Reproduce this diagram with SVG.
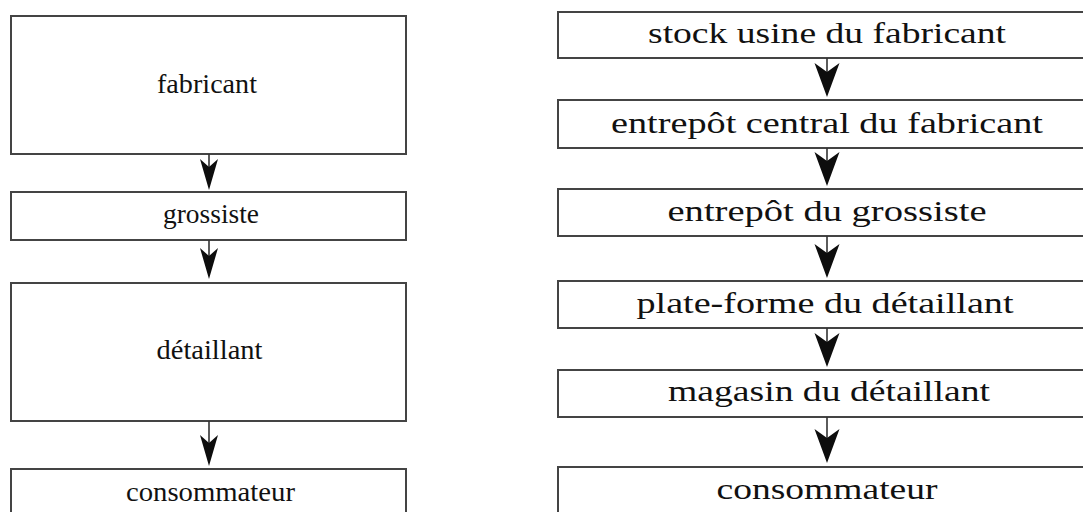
<svg xmlns="http://www.w3.org/2000/svg" width="1083" height="512" viewBox="0 0 1083 512">
  <style>
    .box { fill: #ffffff; stroke: #444444; stroke-width: 2; }
    .lbl { font-family: "Liberation Serif", "Times New Roman", serif; font-size: 27px; fill: #111111; text-anchor: middle; }
    .lbl.wide { font-size: 30px; }
    .wire { stroke: #333333; stroke-width: 1.6; fill: none; }
    .head { fill: #0d0d0d; }
  </style>
  <defs>
    <!-- notched arrowheads, tip at the origin, pointing down -->
    <path id="headL" class="head" d="M0,0 L-9,-31 L0,-23 L9,-31 Z"/>
    <path id="headR" class="head" d="M0,0 L-12.5,-34 L0,-25 L12.5,-34 Z"/>
  </defs>
  <rect x="0" y="0" width="1083" height="512" fill="#ffffff"/>

  <!-- left chain -->
  <g id="fabricant">
    <rect class="box" x="11" y="16" width="395" height="138"/>
    <text class="lbl" x="207" y="93" textLength="100" lengthAdjust="spacingAndGlyphs">fabricant</text>
  </g>
  <g id="grossiste">
    <rect class="box" x="11" y="192" width="395" height="48"/>
    <text class="lbl" x="211" y="223" textLength="96" lengthAdjust="spacingAndGlyphs">grossiste</text>
  </g>
  <g id="detaillant">
    <rect class="box" x="11" y="283" width="395" height="138"/>
    <text class="lbl" x="209.5" y="359" textLength="106" lengthAdjust="spacingAndGlyphs">détaillant</text>
  </g>
  <g id="consommateur-left">
    <rect class="box" x="11" y="469" width="395" height="70"/>
    <text class="lbl" x="210.5" y="501" textLength="169" lengthAdjust="spacingAndGlyphs">consommateur</text>
  </g>

  <!-- right chain -->
  <g id="stock-usine">
    <rect class="box" x="558" y="12" width="540" height="46"/>
    <text class="lbl wide" x="827" y="42.5" textLength="358" lengthAdjust="spacingAndGlyphs">stock usine du fabricant</text>
  </g>
  <g id="entrepot-central">
    <rect class="box" x="558" y="100" width="540" height="48"/>
    <text class="lbl wide" x="827" y="132.5" textLength="432" lengthAdjust="spacingAndGlyphs">entrepôt central du fabricant</text>
  </g>
  <g id="entrepot-grossiste">
    <rect class="box" x="558" y="189" width="540" height="47"/>
    <text class="lbl wide" x="827" y="221" textLength="319" lengthAdjust="spacingAndGlyphs">entrepôt du grossiste</text>
  </g>
  <g id="plate-forme">
    <rect class="box" x="558" y="281" width="540" height="47"/>
    <text class="lbl wide" x="825" y="312.5" textLength="377" lengthAdjust="spacingAndGlyphs">plate-forme du détaillant</text>
  </g>
  <g id="magasin">
    <rect class="box" x="558" y="370" width="540" height="47"/>
    <text class="lbl wide" x="829" y="400.5" textLength="322" lengthAdjust="spacingAndGlyphs">magasin du détaillant</text>
  </g>
  <g id="consommateur-right">
    <rect class="box" x="558" y="467" width="540" height="70"/>
    <text class="lbl wide" x="827" y="498.5" textLength="221" lengthAdjust="spacingAndGlyphs">consommateur</text>
  </g>

  <!-- connectors -->
  <g id="connectors">
    <line class="wire" x1="209" y1="154" x2="209" y2="180"/>
    <use href="#headL" x="209" y="190"/>
    <line class="wire" x1="209" y1="240" x2="209" y2="268"/>
    <use href="#headL" x="209" y="279"/>
    <line class="wire" x1="209" y1="421" x2="209" y2="455"/>
    <use href="#headL" x="209" y="466"/>

    <line class="wire" x1="827" y1="58" x2="827" y2="86"/>
    <use href="#headR" x="827" y="97"/>
    <line class="wire" x1="827" y1="148" x2="827" y2="175"/>
    <use href="#headR" x="827" y="186"/>
    <line class="wire" x1="827" y1="236" x2="827" y2="267"/>
    <use href="#headR" x="827" y="278"/>
    <line class="wire" x1="827" y1="328" x2="827" y2="356"/>
    <use href="#headR" x="827" y="367"/>
    <line class="wire" x1="827" y1="417" x2="827" y2="452"/>
    <use href="#headR" x="827" y="463"/>
  </g>
</svg>
